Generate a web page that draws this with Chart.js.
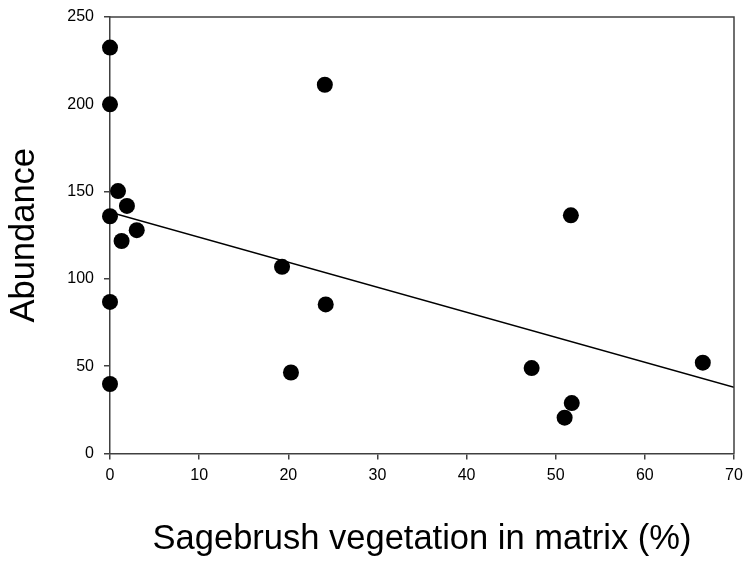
<!DOCTYPE html>
<html>
<head>
<meta charset="utf-8">
<script src="https://cdn.jsdelivr.net/npm/chart.js@4"></script>
<style>
  html, body { margin: 0; padding: 0; background: #fff; }
  #wrap { width: 744px; height: 562px; }
</style>
</head>
<body>
<div id="wrap"><canvas id="chart"></canvas></div>
<script>
// sagebrush % in matrix vs abundance
const sagebrush = [0, 0, 0.9, 1.9, 0, 3.0, 1.3, 19.3, 0, 20.3, 0, 24.1, 24.2, 51.7, 47.3, 51.8, 51.0, 66.5];
const abundance = [232.5, 200, 150.3, 141.8, 135.9, 127.9, 121.7, 106.9, 86.8, 46.4, 39.8, 211.2, 85.4, 136.4, 48.9, 28.9, 20.5, 52];

// regression line end points
const fitX = [0, 70];
const fitY = [138.2, 37.9];

const xTicks = [0, 10, 20, 30, 40, 50, 60, 70];
const yTicks = [0, 50, 100, 150, 200, 250];

const axisColor = '#404040';
const fontFamily = '"Liberation Sans", Arial, sans-serif';

// top and right edge of the frame
const frameBox = {
    id: 'frameBox',
    afterDraw(chart) {
        const { ctx, chartArea: a } = chart;
        ctx.save();
        ctx.strokeStyle = axisColor;
        ctx.lineWidth = 1.5;
        ctx.beginPath();
        ctx.moveTo(a.left, a.top);
        ctx.lineTo(a.right, a.top);
        ctx.lineTo(a.right, a.bottom);
        ctx.stroke();
        ctx.restore();
    }
};

new Chart(document.getElementById('chart'), {
    type: 'scatter',
    data: {
        datasets: [
            {
                label: 'Abundance',
                data: sagebrush.map((x, i) => ({ x: x, y: abundance[i] })),
                pointRadius: 8,
                pointBackgroundColor: '#000',
                pointBorderColor: '#000',
                pointBorderWidth: 0,
                clip: false
            },
            {
                type: 'line',
                label: 'Fit',
                data: fitX.map((x, i) => ({ x: x, y: fitY[i] })),
                borderColor: '#000',
                borderWidth: 1.5,
                pointRadius: 0,
                fill: false
            }
        ]
    },
    options: {
        responsive: true,
        maintainAspectRatio: false,
        animation: false,
        layout: { padding: { top: 17, right: 10, left: 0, bottom: 0 } },
        plugins: {
            legend: { display: false },
            tooltip: { enabled: false }
        },
        scales: {
            x: {
                type: 'linear',
                min: 0,
                max: 70,
                afterBuildTicks: s => { s.ticks = xTicks.map(v => ({ value: v })); },
                afterFit: s => { s.height = 108.5; s.paddingLeft = 0; s.paddingRight = 0; },
                border: { display: true, color: axisColor, width: 1.5 },
                grid: { display: true, drawOnChartArea: false, drawTicks: true, tickLength: 6, color: axisColor, lineWidth: 1.5 },
                ticks: { color: '#000', font: { family: fontFamily, size: 16 }, padding: 6, maxRotation: 0 },
                title: {
                    display: true,
                    text: 'Sagebrush vegetation in matrix (%)',
                    color: '#000',
                    font: { family: fontFamily, size: 34.5 },
                    padding: { top: 0, bottom: 1.5 }
                }
            },
            y: {
                type: 'linear',
                min: 0,
                max: 250,
                afterBuildTicks: s => { s.ticks = yTicks.map(v => ({ value: v })); },
                afterFit: s => { s.width = 110; s.paddingTop = 0; s.paddingBottom = 0; },
                border: { display: true, color: axisColor, width: 1.5 },
                grid: { display: true, drawOnChartArea: false, drawTicks: true, tickLength: 6, color: axisColor, lineWidth: 1.5 },
                ticks: { color: '#000', font: { family: fontFamily, size: 16 }, padding: 10 },
                title: {
                    display: true,
                    text: 'Abundance',
                    color: '#000',
                    font: { family: fontFamily, size: 34.5 },
                    padding: { top: 3.5, bottom: 0 }
                }
            }
        }
    },
    plugins: [frameBox]
});
</script>
</body>
</html>
